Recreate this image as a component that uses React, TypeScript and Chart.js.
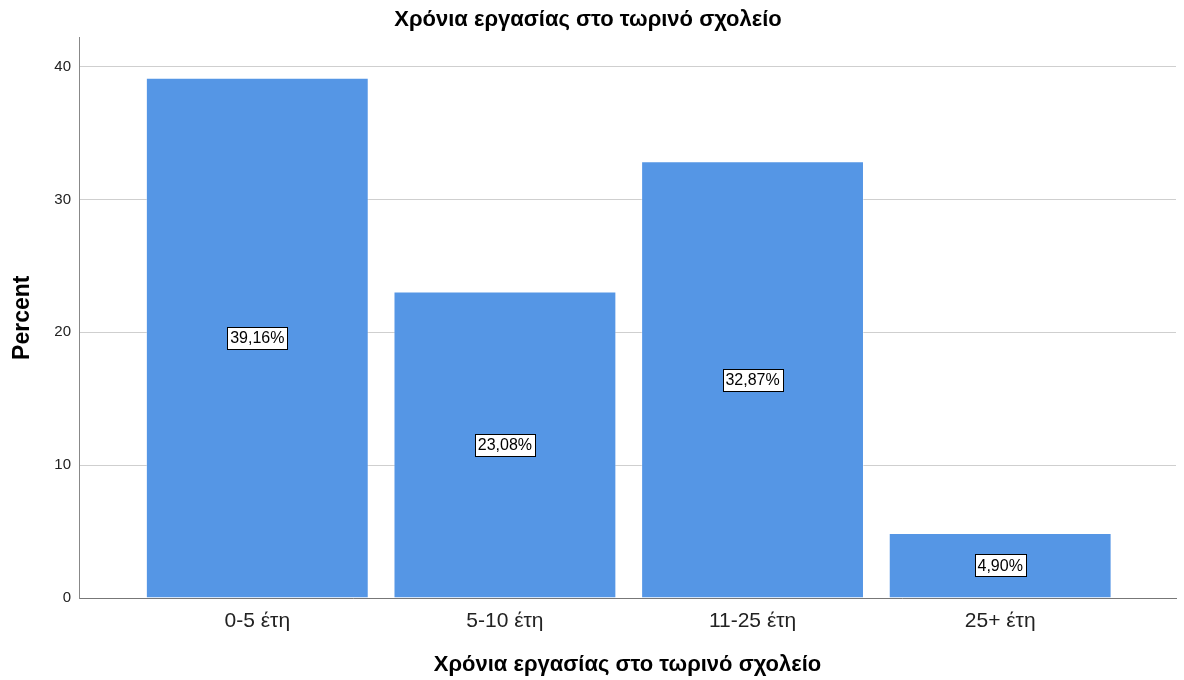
import React, { useEffect, useRef } from "react";
import { Chart, registerables } from "chart.js";

Chart.register(...registerables);

const categories = ["0-5 έτη", "5-10 έτη", "11-25 έτη", "25+ έτη"];
const percentValues = [39.16, 23.08, 32.87, 4.9];
const yTickValues = [0, 10, 20, 30, 40];
const chartTitle = "Χρόνια εργασίας στο τωρινό σχολείο";
const xAxisTitle = "Χρόνια εργασίας στο τωρινό σχολείο";
const yAxisTitle = "Percent";

const FONT = "'Liberation Sans', Arial, sans-serif";

const labelPlugin = {
  id: "barLabels",
  afterDatasetsDraw(chart: any) {
    const ctx = chart.ctx;
    const meta = chart.getDatasetMeta(0);
    const yScale = chart.scales.y;
    ctx.save();
    ctx.font = `16px ${FONT}`;
    ctx.textAlign = "center";
    ctx.textBaseline = "middle";
    meta.data.forEach((bar: any, i: number) => {
      const v = percentValues[i];
      const text = v.toFixed(2).replace(".", ",") + "%";
      const cx = bar.x;
      const cy = yScale.getPixelForValue(v / 2);
      const w = Math.round(ctx.measureText(text).width + 6);
      const h = 22;
      const x0 = Math.round(cx - w / 2) + 0.5;
      const y0 = Math.round(cy - h / 2) + 0.5;
      ctx.fillStyle = "#ffffff";
      ctx.fillRect(x0, y0, w, h);
      ctx.strokeStyle = "#000000";
      ctx.lineWidth = 1;
      ctx.strokeRect(x0, y0, w, h);
      ctx.fillStyle = "#000000";
      ctx.fillText(text, cx, cy + 1);
    });
    ctx.restore();
  },
};

export default function App() {
  const ref = useRef<HTMLCanvasElement | null>(null);
  useEffect(() => {
    if (!ref.current) return;
    const chart = new Chart(ref.current, {
      type: "bar",
      data: {
        datasets: [
          {
            data: percentValues.map((v, i) => ({ x: i, y: v })),
            backgroundColor: "#5596e5",
            borderColor: "rgba(255,255,255,0.35)",
            borderWidth: 1,
            borderSkipped: "bottom",
            barPercentage: 0.9,
            categoryPercentage: 1,
          },
        ],
      },
      options: {
        responsive: false,
        animation: false,
        devicePixelRatio: 1,
        layout: { padding: { left: 0, right: 8, top: 0, bottom: 0 } },
        plugins: {
          legend: { display: false },
          tooltip: { enabled: false },
          title: {
            display: true,
            text: chartTitle,
            color: "#000",
            font: { family: FONT, size: 22, weight: "bold" },
            padding: { top: 7, bottom: 4 },
          },
        },
        scales: {
          x: {
            type: "linear",
            min: -0.72,
            max: 3.71,
            offset: false,
            afterBuildTicks: (scale: any) => {
              scale.ticks = categories.map((_, i) => ({ value: i }));
            },
            afterFit: (scale: any) => {
              scale.height = 82;
            },
            ticks: {
              color: "#222",
              font: { family: FONT, size: 21 },
              padding: 11,
              maxRotation: 0,
              autoSkip: false,
              callback: (v: any) => categories[v] ?? "",
            },
            grid: { display: false, offset: false, drawTicks: false },
            border: { display: true, color: "#777", width: 1 },
            title: {
              display: true,
              text: xAxisTitle,
              color: "#000",
              font: { family: FONT, size: 22, weight: "bold" },
              padding: { top: 0, bottom: 2 },
            },
          },
          y: {
            type: "linear",
            min: 0,
            max: 42.2,
            afterBuildTicks: (scale: any) => {
              scale.ticks = yTickValues.map((v) => ({ value: v }));
            },
            afterFit: (scale: any) => {
              scale.width = 79;
            },
            ticks: {
              color: "#222",
              font: { family: FONT, size: 15 },
              padding: 8,
            },
            grid: { color: "#cfcfcf", drawTicks: false, lineWidth: 1 },
            border: { display: true, color: "#888", width: 1 },
            title: {
              display: true,
              text: yAxisTitle,
              color: "#000",
              font: { family: FONT, size: 23, weight: "bold" },
              padding: { top: 9, bottom: 0 },
            },
          },
        },
      },
      plugins: [labelPlugin],
    } as any);
    return () => chart.destroy();
  }, []);
  return (
    <div style={{ position: "absolute", left: 0, top: 0, width: 1184, height: 680, background: "#fff" }}>
      <canvas ref={ref} width={1184} height={680} style={{ width: 1184, height: 680 }} />
    </div>
  );
}
